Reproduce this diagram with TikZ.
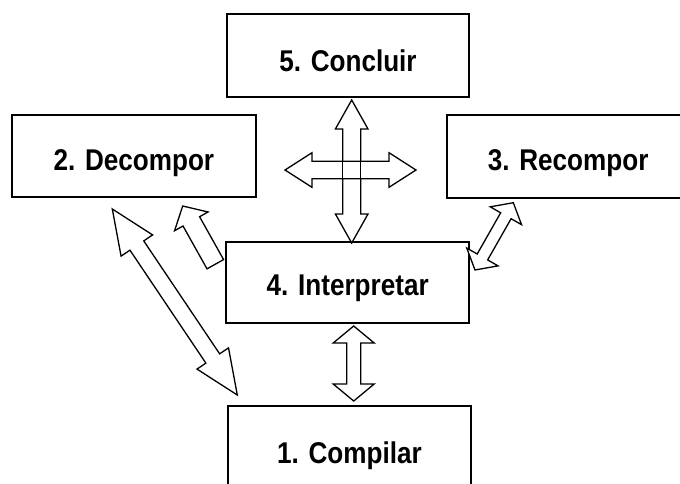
\documentclass[tikz,border=0pt]{standalone}
\usepackage{fontspec}
\setmainfont{Liberation Sans}
\usetikzlibrary{calc}

\tikzset{
  stage/.style={draw, line width=1.8pt, fill=white, inner sep=0pt,
    font=\fontsize{30}{30}\selectfont\bfseries,
    text height=28.5pt, text depth=0pt},
  blockarrow/.style={draw, fill=white, line width=1.3pt, line join=miter},
}

% Double-headed block arrow between two points.
% #1,#2: tips; #3: half shaft width; #4: half head width; #5: head length
\newcommand\twoway[5]{%
  \draw[blockarrow] (#1)
    -- ($(#1)!#5!(#2)!#4!90:(#2)$)
    -- ($(#1)!#5!(#2)!#3!90:(#2)$)
    -- ($(#2)!#5!(#1)!#3!-90:(#1)$)
    -- ($(#2)!#5!(#1)!#4!-90:(#1)$)
    -- (#2)
    -- ($(#2)!#5!(#1)!#4!90:(#1)$)
    -- ($(#2)!#5!(#1)!#3!90:(#1)$)
    -- ($(#1)!#5!(#2)!#3!-90:(#2)$)
    -- ($(#1)!#5!(#2)!#4!-90:(#2)$)
    -- cycle;}

% Single-headed block arrow from tail #1 to tip #2.
\newcommand\oneway[5]{%
  \draw[blockarrow] ($(#1)!#3!90:(#2)$)
    -- ($(#2)!#5!(#1)!#3!-90:(#1)$)
    -- ($(#2)!#5!(#1)!#4!-90:(#1)$)
    -- (#2)
    -- ($(#2)!#5!(#1)!#4!90:(#1)$)
    -- ($(#2)!#5!(#1)!#3!90:(#1)$)
    -- ($(#1)!#3!-90:(#2)$)
    -- cycle;}

\begin{document}
\begin{tikzpicture}[x=1pt, y=-1pt]
  \useasboundingbox (0,0) rectangle (680,483);
  \clip (0,0) rectangle (680,483);

  % the five stages
  \node[stage, minimum width=242pt, minimum height=83pt, text height=32.5pt]
    (concluir) at (348,55.5) {\scalebox{0.87}[1]{5. Concluir}};
  \node[stage, minimum width=244.3pt, minimum height=82.3pt]
    (decompor) at (133.9,156.2) {\scalebox{0.87}[1]{2. Decompor}};
  \node[stage, minimum width=241.7pt, minimum height=83pt]
    (recompor) at (568.2,156.5) {\scalebox{0.87}[1]{3. Recompor}};
  \node[stage, minimum width=243.3pt, minimum height=81.6pt, text height=26.5pt]
    (interpretar) at (347.7,282.5) {\scalebox{0.87}[1]{4. Interpretar}};
  \node[stage, minimum width=243pt, minimum height=94pt, text height=21.5pt]
    (compilar) at (349.5,453) {\scalebox{0.87}[1]{1. Compilar}};

  % arrow ends
  \coordinate (concluirS)  at (351.7,100);
  \coordinate (interpN)    at (351.7,243);
  \coordinate (crossW)     at (285,170);
  \coordinate (crossE)     at (416,170);
  \coordinate (interpS)    at (353.7,326);
  \coordinate (compilarN)  at (353.7,401);
  \coordinate (decomporS)  at (112.3,209);
  \coordinate (compilarW)  at (237.3,395);
  \coordinate (interpW)    at (215.3,264.2);
  \coordinate (decomporSE) at (182.7,206);
  \coordinate (interpE)    at (475,270);
  \coordinate (recomporSW) at (513.3,202.7);

  % connectors
  \twoway{concluirS}{interpN}{9pt}{16.3pt}{29pt}
  \twoway{crossW}{crossE}{8.8pt}{17.3pt}{27pt}
  \draw[line width=1.3pt] (342.7,129) -- (342.7,214)
                          (360.7,129) -- (360.7,214);
  \twoway{interpS}{compilarN}{7pt}{20.5pt}{17pt}
  \twoway{decomporS}{compilarW}{8.3pt}{19pt}{44pt}
  \oneway{interpW}{decomporSE}{9.5pt}{19.2pt}{17.6pt}
  \twoway{interpE}{recomporSW}{6pt}{18pt}{15pt}
\end{tikzpicture}
\end{document}
